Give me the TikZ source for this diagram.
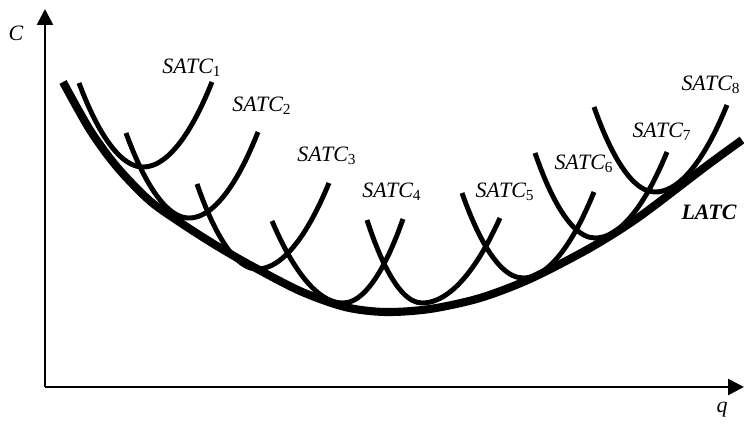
\documentclass[tikz,border=0pt]{standalone}
\usepackage{fontspec}
\setmainfont{Liberation Serif}
\usetikzlibrary{arrows.meta}
\tikzset{
  axis/.style={line width=1.5pt, -{Triangle[length=9pt,width=9pt]}},
  satc/.style={line width=2.8pt},
  latc/.style={line width=4.6pt},
  lbl/.style={font=\fontsize{12.5}{14}\selectfont\itshape, inner sep=0pt}
}
\newcommand{\satclab}[1]{SATC\textsubscript{\upshape #1}}

\begin{document}
\begin{tikzpicture}[x=0.02cm, y=-0.02cm]
                    \useasboundingbox (0,0) rectangle (744,423);
                    \coordinate (O) at (45,387);
                    \coordinate (ytop) at (45,9);
                    \coordinate (xend) at (744,387);
                    \draw[axis] (O) -- (ytop);
                    \draw[axis] (O) -- (xend);
                    \node[lbl] (ylab) at (16,33) {C};
                    \node[lbl] (xlab) at (722,410) {q};
                    \draw[latc] plot[smooth] coordinates {(63,82) (90,130) (117,167) (150,201) (184,225) (217,246) (250,265) (300,291) (345,307) (385,312) (430,309) (480,298) (530,279) (590,248) (639,217) (705,167) (742,140)};
                    \draw[satc] (79,83) parabola bend (143,167) (212,82);
                    \draw[satc] (126,133) parabola bend (189,218) (258,132);
                    \draw[satc] (197,184) parabola bend (257,269) (329,183);
                    \draw[satc] (272,221) parabola bend (343,303) (403,219);
                    \draw[satc] (367,220) parabola bend (422,303) (500,218);
                    \draw[satc] (462,193) parabola bend (523,278) (594,192);
                    \draw[satc] (535,153) parabola bend (595,238) (667,152);
                    \draw[satc] (594,107) parabola bend (655,192) (727,105);
                    \node[lbl] (satc1) at (192,68) {\satclab{1}};
                    \node[lbl] (satc2) at (262,106) {\satclab{2}};
                    \node[lbl] (satc3) at (327,156) {\satclab{3}};
                    \node[lbl] (satc4) at (392,192) {\satclab{4}};
                    \node[lbl] (satc5) at (505,192) {\satclab{5}};
                    \node[lbl] (satc6) at (584,164) {\satclab{6}};
                    \node[lbl] (satc7) at (662,132) {\satclab{7}};
                    \node[lbl] (satc8) at (711,85) {\satclab{8}};
                    \node[lbl, font=\fontsize{12.5}{14}\selectfont\bfseries\itshape] (latc) at (709,212) {LATC};
                  \end{tikzpicture}
\end{document}
